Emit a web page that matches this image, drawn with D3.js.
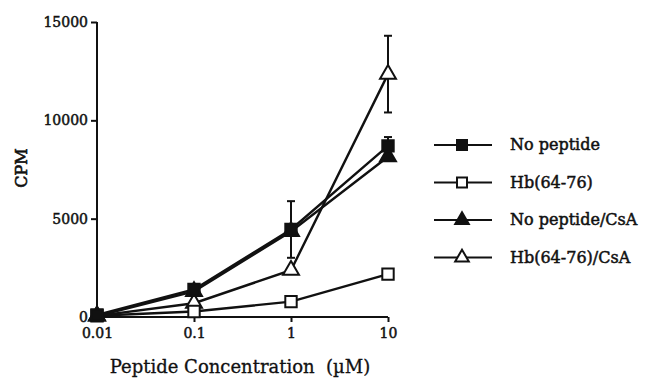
<!DOCTYPE html>
<html>
<head>
<meta charset="utf-8">
<script src="https://cdn.jsdelivr.net/npm/d3@7"></script>
<style>
  body { margin: 0; background: #fff; }
  svg text { font-family: "DejaVu Serif", serif; fill: #111; white-space: pre; }
</style>
</head>
<body>
<div id="chart"></div>
<script>
// concentrations (uM)
var conc = [0.01, 0.1, 1, 10];

// CPM per series
var noPeptide = [100, 1400, 4450, 8700];
var hb = [60, 280, 780, 2180];
var noPeptideCsA = [50, 1300, 4350, 8150];
var hbCsA = [60, 700, 2380, 12350];

// error bars (sd), null where none drawn
var noPeptideErr = [null, null, 1440, 450];
var hbCsAErr = [null, null, null, 1950];

var yTicks = [0, 5000, 10000, 15000];
var xTicks = [0.01, 0.1, 1, 10];

var series = [
    { name: "No peptide", values: noPeptide, err: noPeptideErr, shape: "square", filled: true },
    { name: "Hb(64-76)", values: hb, err: null, shape: "square", filled: false },
    { name: "No peptide/CsA", values: noPeptideCsA, err: null, shape: "triangle", filled: true },
    { name: "Hb(64-76)/CsA", values: hbCsA, err: hbCsAErr, shape: "triangle", filled: false }
];

var width = 646, height = 381;
var svg = d3.select("#chart").append("svg")
    .attr("width", width)
    .attr("height", height);

var x = d3.scaleLog().domain([0.01, 10]).range([97, 388]);
var y = d3.scaleLinear().domain([0, 15000]).range([317, 22]);

// axes
var yAxis = svg.append("g")
    .attr("transform", "translate(97,0)")
    .call(d3.axisLeft(y).tickValues(yTicks).tickSize(6).tickPadding(3).tickFormat(d3.format("d")));
var xAxis = svg.append("g")
    .attr("transform", "translate(0,317)")
    .call(d3.axisBottom(x).tickValues(xTicks).tickSize(5).tickPadding(6)
          .tickFormat(function (d) { return String(d); }));

[xAxis, yAxis].forEach(function (a) {
    a.select(".domain").attr("stroke", "#111").attr("stroke-width", 2);
    a.selectAll(".tick line").attr("stroke", "#111").attr("stroke-width", 2);
    a.selectAll(".tick text")
        .style("font-family", "DejaVu Serif, serif")
        .style("font-size", "14px")
        .attr("stroke", "#111")
        .attr("stroke-width", 0.5)
        .attr("fill", "#111");
});
// y axis line: plain segment without outer ticks
yAxis.select(".domain").attr("d", "M0," + y(15000) + "V" + (y(0) + 3));
xAxis.select(".domain").attr("d", "M" + x(0.01) + ",0H" + x(10));

// lines
var line = d3.line()
    .x(function (d, i) { return x(conc[i]); })
    .y(function (d) { return y(d); });

svg.selectAll(".series")
    .data(series)
    .enter()
    .append("path")
    .attr("class", "series")
    .attr("d", function (d) { return line(d.values); })
    .attr("fill", "none")
    .attr("stroke", "#111")
    .attr("stroke-width", 2.4);

// error bars
series.forEach(function (s) {
    if (!s.err) return;
    s.err.forEach(function (e, i) {
        if (e == null) return;
        var cx = x(conc[i]);
        var g = svg.append("g").attr("stroke", "#111").attr("stroke-width", 2);
        g.append("line").attr("x1", cx).attr("x2", cx)
            .attr("y1", y(s.values[i] + e)).attr("y2", y(s.values[i] - e));
        [s.values[i] + e, s.values[i] - e].forEach(function (v) {
            g.append("line").attr("x1", cx - 4).attr("x2", cx + 4)
                .attr("y1", y(v)).attr("y2", y(v));
        });
    });
});

// markers
var marker = function (g, s, cx, cy, big) {
    var sym = s.shape === "square" ? d3.symbolSquare : d3.symbolTriangle;
    var size = s.shape === "square" ? (big ? 130 : 100) : (big ? 110 : 80);
    g.append("path")
        .attr("d", d3.symbol().type(sym).size(size)())
        .attr("transform", "translate(" + cx + "," + cy + ")")
        .attr("fill", s.filled ? "#111" : "#fff")
        .attr("stroke", "#111")
        .attr("stroke-width", 2);
};

// open markers first so the filled ones sit on top where they overlap
var drawOrder = [3, 1, 2, 0];
drawOrder.forEach(function (k) {
    var s = series[k];
    var g = svg.append("g");
    s.values.forEach(function (v, i) {
        marker(g, s, x(conc[i]), y(v), true);
    });
});

// legend
var legend = svg.append("g");
series.forEach(function (s, i) {
    var ly = 145 + i * 37.5;
    var g = legend.append("g");
    g.append("line").attr("x1", 434).attr("x2", 492)
        .attr("y1", ly).attr("y2", ly)
        .attr("stroke", "#111").attr("stroke-width", 2);
    marker(g, s, 462, ly, false);
    g.append("text")
        .attr("x", 510).attr("y", ly + 5)
        .style("font-size", "16px")
        .attr("stroke", "#111")
        .attr("stroke-width", 0.5)
        .text(s.name);
});

// axis titles
svg.append("text")
    .attr("transform", "translate(27,168) rotate(-90)")
    .attr("text-anchor", "middle")
    .style("font-size", "16px")
    .attr("stroke", "#111")
    .attr("stroke-width", 0.6)
    .text("CPM");

svg.append("text")
    .attr("x", 240).attr("y", 373)
    .attr("text-anchor", "middle")
    .style("font-size", "18px")
    .attr("stroke", "#111")
    .attr("stroke-width", 0.3)
    .text("Peptide Concentration  (\u00b5M)");
</script>
</body>
</html>
